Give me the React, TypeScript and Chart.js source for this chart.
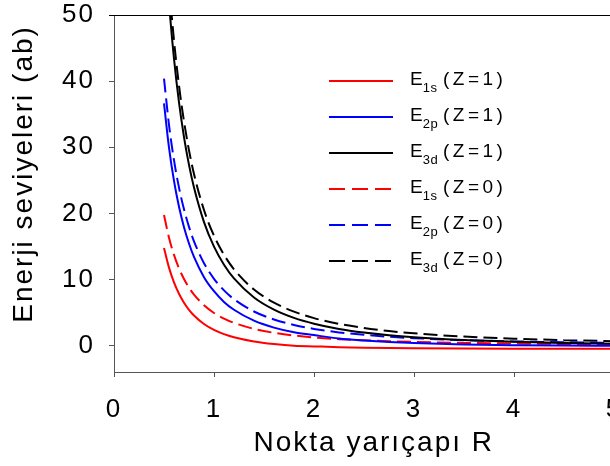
import React, { useEffect, useRef } from 'react';
import { Chart, registerables } from 'chart.js';

Chart.register(...registerables);

// Radius values (x axis)
const R = [0.5, 0.55, 0.6, 0.65, 0.7, 0.75, 0.8, 0.9, 1.0, 1.1, 1.2, 1.4, 1.6, 1.8, 2.0, 2.25, 2.5, 2.75, 3.0, 3.5, 4.0, 4.5, 5.0];

// Energy levels (Z=1)
const E1sZ1 = [14.75, 11.79, 9.55, 7.83, 6.48, 5.41, 4.55, 3.26, 2.37, 1.73, 1.26, 0.62, 0.23, -0.03, -0.125, -0.24, -0.32, -0.38, -0.42, -0.46, -0.48, -0.49, -0.5];
const E2pZ1 = [36.62, 29.95, 24.9, 20.99, 17.91, 15.44, 13.4, 10.35, 8.22, 6.6, 5.41, 3.76, 2.71, 2.01, 1.58, 1.07, 0.77, 0.54, 0.38, 0.16, 0.05, -0.01, -0.04];
const E3dZ1 = [63.1, 51.9, 43.39, 36.77, 31.54, 27.33, 23.89, 18.67, 14.96, 12.23, 10.15, 7.28, 5.44, 4.19, 3.31, 2.52, 1.97, 1.56, 1.26, 0.84, 0.57, 0.39, 0.26];

// Energy levels (Z=0)
const E1sZ0 = [19.74, 16.31, 13.71, 11.68, 10.07, 8.77, 7.71, 6.09, 4.93, 4.08, 3.43, 2.52, 1.93, 1.52, 1.23, 0.97, 0.79, 0.65, 0.55, 0.4, 0.31, 0.24, 0.2];
const E2pZ0 = [40.38, 33.37, 28.04, 23.89, 20.6, 17.95, 15.77, 12.46, 10.1, 8.34, 7.01, 5.15, 3.94, 3.12, 2.52, 1.99, 1.62, 1.33, 1.12, 0.82, 0.63, 0.5, 0.4];
const E3dZ0 = [66.44, 54.91, 46.14, 39.31, 33.9, 29.53, 25.95, 20.5, 16.61, 13.73, 11.53, 8.47, 6.49, 5.13, 4.15, 3.28, 2.66, 2.2, 1.85, 1.36, 1.04, 0.82, 0.66];

const xTicks = [0, 1, 2, 3, 4, 5];
const yTicks = [0, 10, 20, 30, 40, 50];

const legendMain = 'E';
const legendSubs = ['1s', '2p', '3d', '1s', '2p', '3d'];
const legendRest = ['(Z=1)', '(Z=1)', '(Z=1)', '(Z=0)', '(Z=0)', '(Z=0)'];

const xTitle = 'Nokta yarıçapı R';
const yTitle = 'Enerji seviyeleri (ab)';

const FONT = "'Liberation Sans', Arial, sans-serif";
const AXIS_COLOR = '#555';

const seriesList = [E1sZ1, E2pZ1, E3dZ1, E1sZ0, E2pZ0, E3dZ0];
const colors = ['#ff0000', '#0000ff', '#000000', '#ff0000', '#0000ff', '#000000'];
const dashed = [false, false, false, true, true, true];

const spacingPlugin = {
  id: 'spacing',
  beforeInit(chart: any) {
    chart.ctx.letterSpacing = '2px';
  },
  beforeDraw(chart: any) {
    chart.ctx.letterSpacing = '2px';
  },
};

const framePlugin = {
  id: 'frame',
  afterDraw(chart: any) {
    const { ctx, chartArea } = chart;
    const { left, right, top } = chartArea;
    ctx.save();
    ctx.strokeStyle = '#000';
    ctx.lineWidth = 1;
    ctx.beginPath();
    ctx.moveTo(left - 5, Math.round(top) + 0.5);
    ctx.lineTo(right, Math.round(top) + 0.5);
    ctx.stroke();
    ctx.restore();
  },
};

const legendPlugin = {
  id: 'customLegend',
  afterDraw(chart: any) {
    const { ctx, chartArea } = chart;
    const x0 = chartArea.left + 215;
    const y0 = chartArea.top + 66;
    const rowH = 36;
    chart.data.datasets.forEach((ds: any, i: number) => {
      const y = y0 + i * rowH;
      ctx.save();
      ctx.strokeStyle = ds.borderColor;
      ctx.lineWidth = 2;
      ctx.setLineDash(dashed[i] ? [16, 7] : []);
      ctx.beginPath();
      ctx.moveTo(x0, y);
      ctx.lineTo(x0 + 64, y);
      ctx.stroke();
      ctx.setLineDash([]);
      ctx.fillStyle = '#000';
      ctx.textAlign = 'left';
      ctx.textBaseline = 'alphabetic';
      ctx.letterSpacing = '0px';
      ctx.font = `19px ${FONT}`;
      const tx = x0 + 81;
      ctx.fillText(legendMain, tx, y + 4);
      const w = ctx.measureText(legendMain).width;
      ctx.font = `13px ${FONT}`;
      ctx.letterSpacing = '0.5px';
      ctx.fillText(legendSubs[i], tx + w, y + 10.5);
      ctx.font = `19px ${FONT}`;
      ctx.letterSpacing = '3.5px';
      ctx.fillText(legendRest[i], x0 + 114, y + 4);
      ctx.restore();
    });
  },
};

export default function App() {
  const canvasRef = useRef<HTMLCanvasElement | null>(null);

  useEffect(() => {
    const canvas = canvasRef.current;
    if (!canvas) return;
    const datasets = seriesList.map((vals, i) => ({
      label: `E${legendSubs[i]} ${legendRest[i]}`,
      data: R.map((r, j) => ({ x: r, y: vals[j] })),
      borderColor: colors[i],
      backgroundColor: colors[i],
      borderWidth: 2,
      borderDash: dashed[i] ? [14, 6] : [],
      pointRadius: 0,
      cubicInterpolationMode: 'monotone' as const,
      fill: false,
    }));

    const chart = new Chart(canvas, {
      type: 'line',
      data: { datasets },
      options: {
        animation: false,
        responsive: false,
        devicePixelRatio: 1,
        layout: { padding: { top: 15, right: 26, left: 0, bottom: 0 } },
        plugins: {
          legend: { display: false },
          tooltip: { enabled: false },
        },
        scales: {
          x: {
            type: 'linear',
            min: 0,
            max: 5,
            afterBuildTicks: (axis: any) => {
              axis.ticks = xTicks.map((v) => ({ value: v }));
            },
            afterFit: (scale: any) => {
              scale.height = 94;
              scale.paddingLeft = 0;
              scale.paddingRight = 0;
              scale.paddingTop = 0;
              scale.paddingBottom = 0;
            },
            ticks: {
              font: { family: FONT, size: 26 },
              color: '#000',
              padding: 17,
              maxRotation: 0,
              autoSkip: false,
            },
            grid: {
              display: true,
              drawOnChartArea: false,
              drawTicks: true,
              tickLength: 5,
              color: AXIS_COLOR,
              tickColor: AXIS_COLOR,
            },
            border: { display: true, color: AXIS_COLOR, width: 1 },
            title: {
              display: true,
              text: '  ' + xTitle,
              color: '#000',
              font: { family: FONT, size: 28 },
              padding: { top: 0, bottom: 6 },
            },
          },
          y: {
            type: 'linear',
            min: -4,
            max: 50,
            afterBuildTicks: (axis: any) => {
              axis.ticks = yTicks.map((v) => ({ value: v }));
            },
            afterFit: (scale: any) => {
              scale.width = 114;
              scale.paddingLeft = 0;
              scale.paddingRight = 0;
              scale.paddingTop = 0;
              scale.paddingBottom = 0;
            },
            ticks: {
              font: { family: FONT, size: 26 },
              color: '#000',
              padding: 14,
              autoSkip: false,
            },
            grid: {
              display: true,
              drawOnChartArea: false,
              drawTicks: true,
              tickLength: 5,
              color: AXIS_COLOR,
              tickColor: AXIS_COLOR,
            },
            border: { display: true, color: AXIS_COLOR, width: 1 },
            title: {
              display: true,
              text: '    ' + yTitle,
              color: '#000',
              font: { family: FONT, size: 28 },
              padding: { top: 7, bottom: 0 },
            },
          },
        },
      },
      plugins: [spacingPlugin, framePlugin, legendPlugin],
    });

    return () => {
      chart.destroy();
    };
  }, []);

  return (
    <div
      style={{
        position: 'absolute',
        left: 0,
        top: 0,
        width: 610,
        height: 466,
        overflow: 'hidden',
        background: '#fff',
      }}
    >
      <canvas
        ref={canvasRef}
        width={640}
        height={466}
        style={{ display: 'block', width: '640px', height: '466px' }}
      />
    </div>
  );
}
